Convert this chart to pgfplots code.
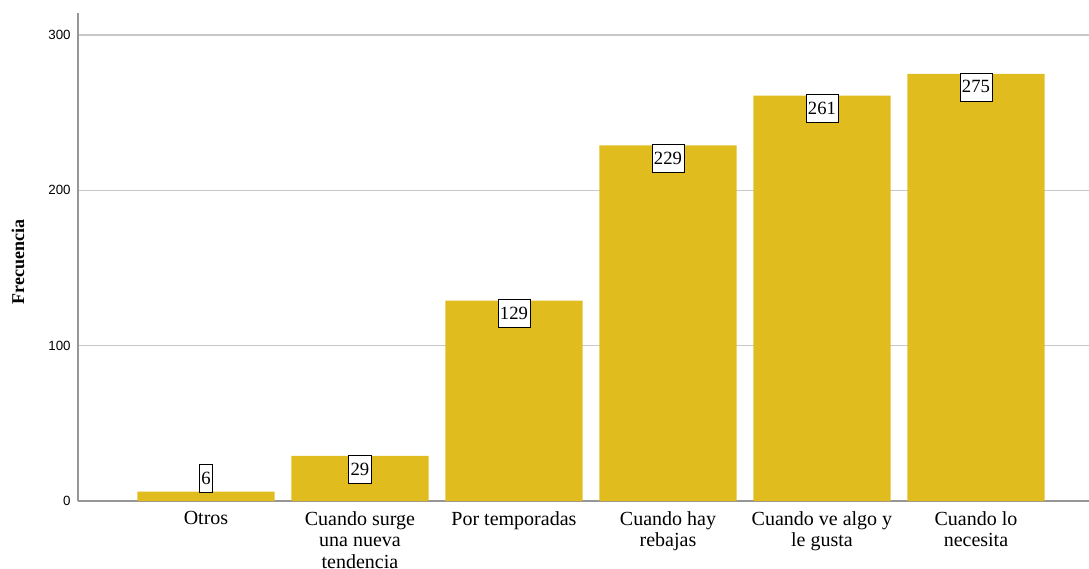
\documentclass[border=0pt]{standalone}
\usepackage{pgfplots}
\pgfplotsset{compat=1.18}
\usepackage{fontspec}
\setmainfont{Liberation Serif}
\newfontfamily\sansf{Liberation Sans}
\definecolor{barc}{RGB}{224,188,30}
\definecolor{gridc}{RGB}{200,200,200}
\definecolor{axc}{RGB}{150,150,150}
\tikzset{label box/.style={fill=white, draw=black, line width=0.6pt, inner xsep=1.5pt, inner ysep=0pt, text height=15pt, text depth=6pt, font=\fontsize{14}{15}\selectfont}}
\begin{document}
\begin{tikzpicture}
\path[use as bounding box] (-58.5pt,-50.25pt) rectangle (758.25pt,375.75pt);
\begin{axis}[
  scale only axis,
  width=758.25pt, height=366pt,
  xmin=-0.831, xmax=5.734,
  ymin=0, ymax=314.2,
  axis x line*=bottom, axis y line*=left,
  axis line style={axc, line width=0.9pt, -},
  ytick={0,100,200,300},
  ymajorgrids, grid style={gridc, line width=0.9pt},
  major tick length=0pt,
  xtick={0,1,2,3,4,5},
  xticklabels={Otros, Cuando surge\\una nueva\\tendencia, Por temporadas, Cuando hay\\rebajas, Cuando ve algo y\\le gusta, Cuando lo\\necesita},
  xticklabel style={align=center, font=\fontsize{15}{16}\selectfont, yshift=-4.5pt},
  yticklabel style={font=\sansf\fontsize{10}{12}\selectfont, xshift=-2pt},
  /pgf/number format/assume math mode=true,
  ylabel={\textbf{Frecuencia}},
  ylabel style={font=\fontsize{13.5}{15}\selectfont, at={(axis description cs:-0.0593,0.49)}, anchor=center},
  clip=false,
]
\addplot[ybar, bar width=0.89, fill=barc, draw=none] coordinates {(0,6) (1,29) (2,129) (3,229) (4,261) (5,275)};
\addplot[draw=none, mark=none, nodes near coords, point meta=y,
  every node near coord/.append style={label box, anchor=north, yshift=1pt}]
  coordinates {(1,29) (2,129) (3,229) (4,261) (5,275)};
\addplot[draw=none, mark=none, nodes near coords, point meta=y,
  every node near coord/.append style={label box, anchor=south, yshift=-1pt}]
  coordinates {(0,6)};
\end{axis}
\end{tikzpicture}
\end{document}
